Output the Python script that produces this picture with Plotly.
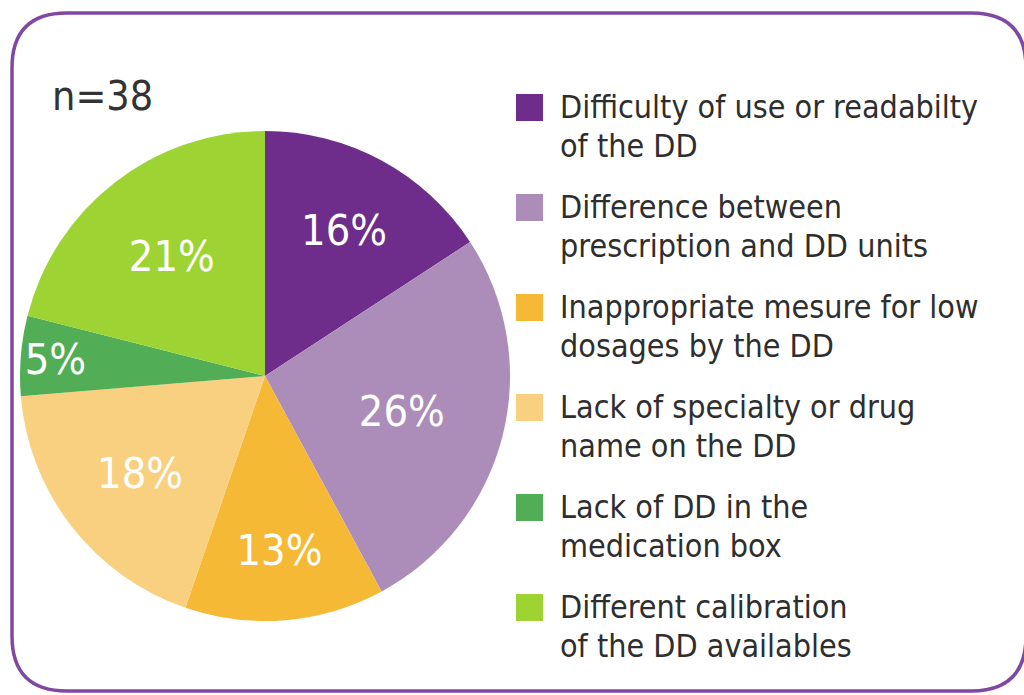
import plotly.graph_objects as go

# ---- data ----
categories = [
    "Difficulty of use or readabilty<br>of the DD",
    "Difference between<br>prescription and DD units",
    "Inappropriate mesure for low<br>dosages by the DD",
    "Lack of specialty or drug<br>name on the DD",
    "Lack of DD in the<br>medication box",
    "Different calibration<br>of the DD availables",
]
counts = [6, 10, 5, 7, 2, 8]  # n = 38
colors = ["#6E2C8B", "#AC8DBA", "#F5B935", "#F8D080", "#52AE56", "#9DD433"]
n_label = "n=38"

W, H = 1024, 695
FONT = "DejaVu Sans Condensed, Liberation Sans Narrow, DejaVu Sans, sans-serif"


def fx(x):
    return x / W


def fy(y):
    return 1 - y / H


fig = go.Figure(
    go.Pie(
        labels=[c.replace("<br>", " ") for c in categories],
        values=counts,
        sort=False,
        direction="clockwise",
        rotation=0,
        marker=dict(colors=colors, line=dict(width=0)),
        texttemplate="%{percent:.0%}",
        textposition="inside",
        insidetextorientation="horizontal",
        textfont=dict(color="white", size=43, family=FONT),
        domain=dict(x=[fx(20), fx(510)], y=[fy(621), fy(131)]),
        showlegend=False,
        hoverinfo="label+percent",
    )
)

# ---- rounded frame ----
L, T, R, B, r = 12, 13, 1026, 691, 55
def P(x, y):
    return f"{fx(x):.5f},{fy(y):.5f}"
path = (
    f"M{P(L + r, T)} L{P(R - r, T)} Q{P(R, T)} {P(R, T + r)} "
    f"L{P(R, B - r)} Q{P(R, B)} {P(R - r, B)} L{P(L + r, B)} "
    f"Q{P(L, B)} {P(L, B - r)} L{P(L, T + r)} Q{P(L, T)} {P(L + r, T)} Z"
)
fig.add_shape(type="path", path=path, xref="paper", yref="paper",
              line=dict(color="#8048A3", width=3.5), layer="above")

# ---- n label ----
fig.add_annotation(text=n_label, x=fx(50), y=fy(96), xref="paper", yref="paper",
                   xanchor="left", yanchor="middle", showarrow=False,
                   font=dict(size=41, color="#333333", family=FONT))

# ---- manual legend ----
leg_top, pitch, sq, line_gap = 94, 100, 27, 39
for i, (cat, col) in enumerate(zip(categories, colors)):
    y0 = leg_top + i * pitch
    fig.add_shape(type="rect", xref="paper", yref="paper",
                  x0=fx(516), x1=fx(516 + sq), y0=fy(y0), y1=fy(y0 + sq),
                  fillcolor=col, line=dict(width=0))
    for j, line in enumerate(cat.split("<br>")):
        fig.add_annotation(text=line, x=fx(558), y=fy(y0 + 13 + j * line_gap),
                           xref="paper", yref="paper",
                           xanchor="left", yanchor="middle", align="left",
                           showarrow=False,
                           font=dict(size=32, color="#2E2E2E", family=FONT))

fig.update_layout(
    width=W, height=H,
    margin=dict(l=0, r=0, t=0, b=0),
    paper_bgcolor="white", plot_bgcolor="white",
    uniformtext=dict(minsize=43, mode="show"),
)

fig.write_html("out.html", config={"displayModeBar": False},
               post_script="document.body.style.margin='0';")
